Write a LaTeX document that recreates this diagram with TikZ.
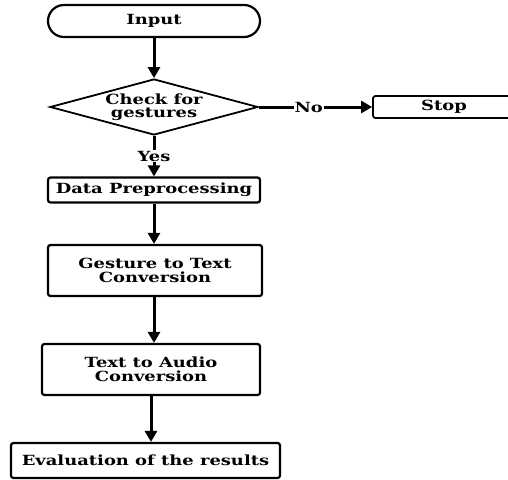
\documentclass[tikz,border=0pt]{standalone}
\usepackage{fontspec}
\newfontfamily\flowfont[FakeStretch=1.28]{DejaVu Serif}
\usetikzlibrary{arrows.meta,shapes.geometric}

\begin{document}
\begin{tikzpicture}[x=1pt,y=-1pt,
    txt/.style={font=\flowfont\bfseries\fontsize{14}{13.5}\selectfont},
    box/.style={txt,rectangle,draw,line width=2.2pt,rounded corners=2.5pt,align=center,inner sep=0pt},
    flow/.style={line width=3pt,-{Triangle[length=11pt,width=12pt]}},
    tag/.style={txt,fill=white,inner sep=1pt}]
  \useasboundingbox (0,0) rectangle (508,479);
  \path
  (154,21) node(input) [box,rounded corners=16pt,minimum width=212pt,minimum height=32pt] {Input}
  (154,107) node(check) [txt,diamond,draw,line width=1.8pt,aspect=3.7,inner sep=0pt,align=center,minimum width=208pt,minimum height=56pt] {Check for\\gestures}
  (444,107) node(stop) [box,line width=1.8pt,minimum width=142pt,minimum height=22pt] {Stop}
  (154,190) node(prep) [box,minimum width=212pt,minimum height=25pt] {Data Preprocessing}
  (155,270.5) node(gtt) [box,minimum width=214pt,minimum height=51pt] {Gesture to Text\\Conversion}
  (151,369.5) node(tta) [box,minimum width=218pt,minimum height=51pt] {Text to Audio\\Conversion}
  (145.5,460.5) node(eval) [box,minimum width=269pt,minimum height=35pt] {Evaluation of the results};
  \draw[flow] (input) -- (check);
  \draw[flow] (check) -- node[tag,pos=0.44] {No} (stop);
  \draw[flow] (check) -- node[tag] {Yes} (prep);
  \draw[flow] (prep) -- (prep |- gtt.north);
  \draw[flow] (gtt.south -| prep) -- (prep |- tta.north);
  \draw[flow] (tta.south) -- (tta.south |- eval.north);
\end{tikzpicture}
\end{document}
